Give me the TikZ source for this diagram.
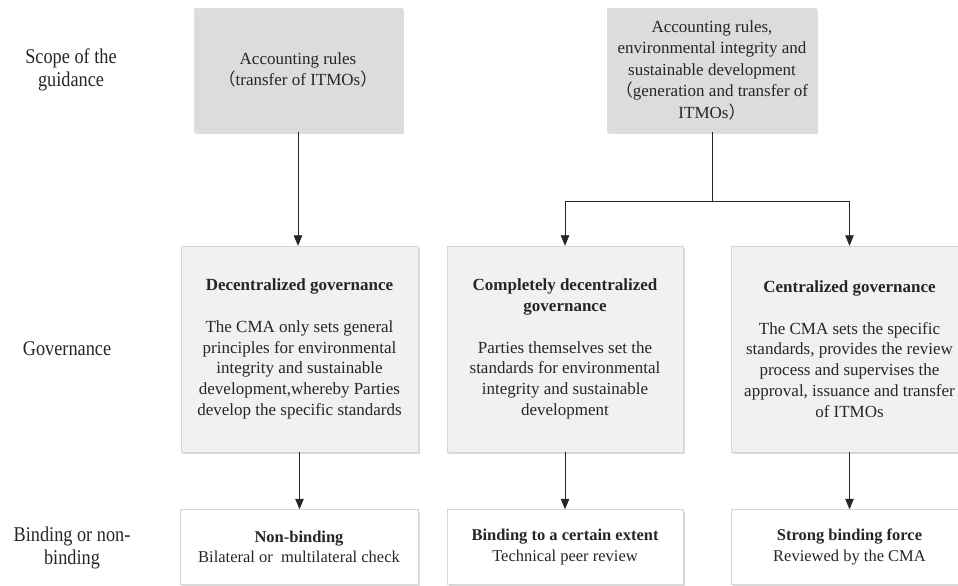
\documentclass[tikz,border=0pt]{standalone}
\usepackage{fontspec}
\setmainfont{Liberation Serif}
\newfontfamily\cjk{Noto Sans CJK SC}
\newfontfamily\condfont[FakeStretch=0.87]{Liberation Serif}
\usetikzlibrary{arrows.meta,shadows}
\definecolor{topgray}{RGB}{220,220,222}
\definecolor{govgray}{RGB}{240,241,243}
\definecolor{edgegray}{RGB}{214,214,218}
\tikzset{
  boxshadow/.style={drop shadow={shadow xshift=1.5pt,shadow yshift=-2pt,fill=black!30,opacity=0.45}},
  topbox/.style={boxshadow,fill=topgray,draw=topgray!90!white,minimum width=208pt,minimum height=124pt,
    align=center,inner sep=2pt,font=\fontsize{17}{21.5}\selectfont},
  govbox/.style={boxshadow,fill=govgray,draw=edgegray,minimum width=237pt,minimum height=206pt,
    align=center,inner sep=2pt,font=\fontsize{17}{20.8}\selectfont},
  botbox/.style={boxshadow,fill=white,draw=edgegray,minimum width=237pt,minimum height=75pt,
    align=center,inner sep=2pt,font=\fontsize{16.5}{20.5}\selectfont},
  rowlabel/.style={align=center,font=\condfont\fontsize{21}{22.5}\selectfont,text=black!85},
  conn/.style={draw=black!85,line width=0.8pt},
  arr/.style={conn,-{Triangle[length=10.5pt,width=8.5pt]}}
}
\begin{document}
\begin{tikzpicture}[x=1pt,y=-1pt,text=black!85]
\useasboundingbox (0,0) rectangle (958,586);
% row labels
\node[rowlabel] (lscope) at (71,70) {Scope of the\\guidance};
\node[rowlabel] (lgov) at (67,349) {Governance};
\node[rowlabel] (lbind) at (72,548) {Binding or non-\\binding};
% top boxes
\node[topbox] (t1) at (298,70) {Accounting rules\\{\cjk （}transfer of ITMOs{\cjk ）}};
\node[topbox,minimum width=209pt] (t2) at (712,70) {Accounting rules,\\environmental integrity and\\sustainable development\\{\cjk （}generation and transfer of\\ITMOs{\cjk ）}};
% governance boxes
\node[govbox] (g1) at (299.5,349) {\textbf{Decentralized governance}\\[20.8pt]The CMA only sets general\\principles for environmental\\integrity and sustainable\\development,whereby Parties\\develop the specific standards};
\node[govbox,minimum width=236pt] (g2) at (565,349) {\textbf{Completely decentralized}\\\textbf{governance}\\[20.8pt]Parties themselves set the\\standards for environmental\\integrity and sustainable\\development};
\node[govbox] (g3) at (849.5,349) {\textbf{Centralized governance}\\[20.8pt]The CMA sets the specific\\standards, provides the review\\process and supervises the\\approval, issuance and transfer\\of ITMOs};
% binding boxes
\node[botbox,minimum width=238pt] (b1) at (299,547) {\textbf{Non-binding}\\Bilateral or\ \ multilateral check};
\node[botbox,minimum width=236pt] (b2) at (565,547) {\textbf{Binding to a certain extent}\\Technical peer review};
\node[botbox] (b3) at (849.5,547) {\textbf{Strong binding force}\\Reviewed by the CMA};
% connectors
\coordinate (split) at (712,201);
\draw[conn] (t2.south) -- (split);
\draw[arr] (t1.south) -- (t1.south |- g1.north);
\draw[arr] (split) -| (g2.north);
\draw[arr] (split) -| (g3.north);
\draw[arr] (g1.south) -- (g1.south |- b1.north);
\draw[arr] (g2.south) -- (b2.north);
\draw[arr] (g3.south) -- (g3.south |- b3.north);
\end{tikzpicture}
\end{document}
